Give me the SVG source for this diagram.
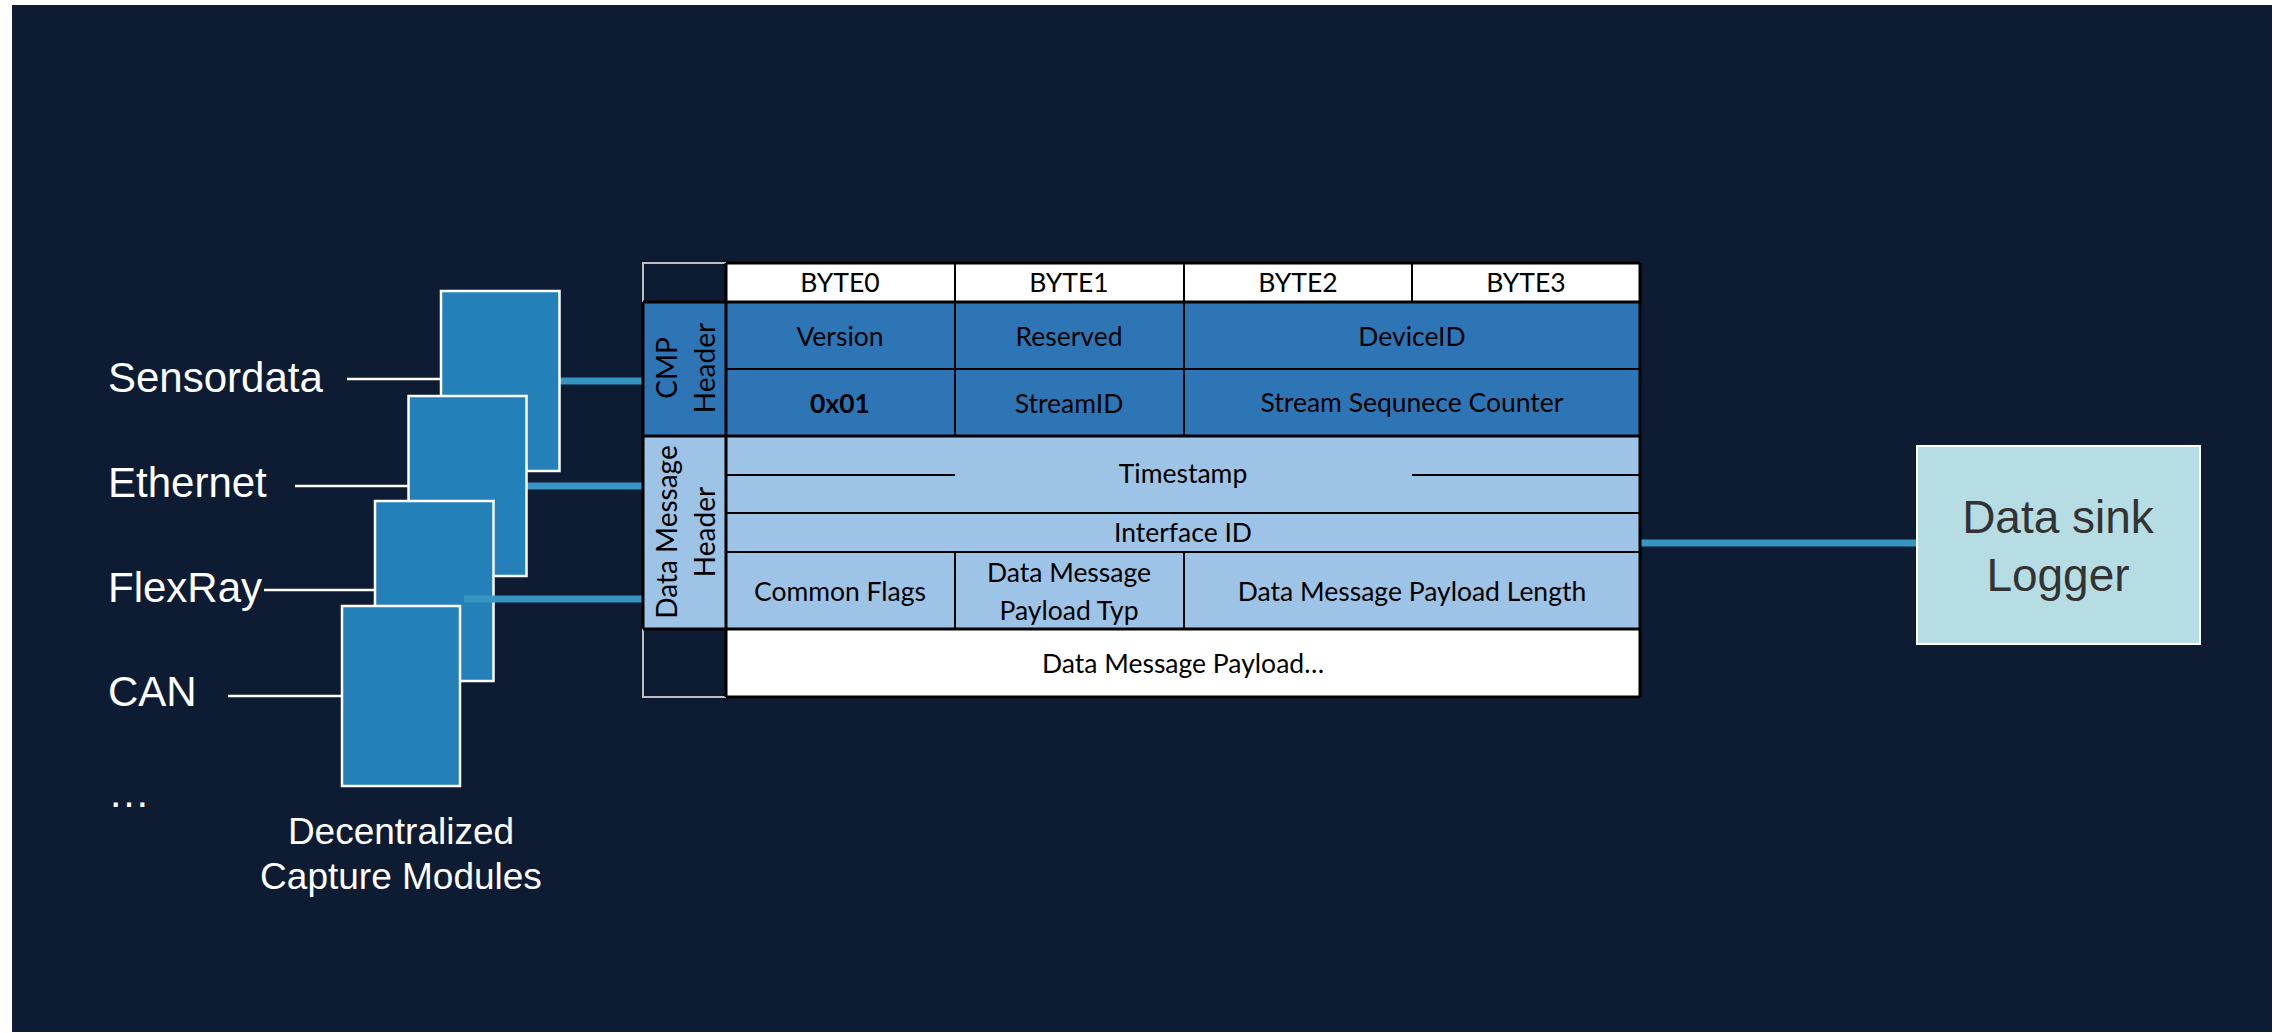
<svg xmlns="http://www.w3.org/2000/svg" width="2275" height="1033" viewBox="0 0 2275 1033">
<style>
.lbl{font-family:"Liberation Sans",Arial,sans-serif;fill:#ffffff;font-size:42px}
.cap{font-family:"Liberation Sans",Arial,sans-serif;fill:#ffffff;font-size:37px;text-anchor:middle}
.sink{font-family:"Liberation Sans",Arial,sans-serif;fill:#333333;font-size:46px;text-anchor:middle}
.t{font-family:Lato,"Open Sans",sans-serif;fill:#000000;font-size:26.5px;text-anchor:middle}
.r{font-size:28px}
.b{font-weight:bold}
.mod{fill:#2380b8;stroke:#ffffff;stroke-width:2.5}
.wire{stroke:#ffffff;stroke-width:2.5;fill:none}
.bus{stroke:#3795c1;stroke-width:7;fill:none}
.g3{stroke:#000000;stroke-width:3;fill:none}
.g2{stroke:#000000;stroke-width:2;fill:none}
.gy{stroke:#bfbfbf;stroke-width:2;fill:none}
</style>
<rect x="0" y="0" width="2275" height="1033" fill="#ffffff"/>
<rect x="12" y="5" width="2260" height="1027" fill="#0d1b33"/>

<g id="labels">
<text class="lbl" x="108" y="392">Sensordata</text>
<text class="lbl" x="108" y="497">Ethernet</text>
<text class="lbl" x="108" y="602">FlexRay</text>
<text class="lbl" x="108" y="706">CAN</text>
<text class="lbl" x="108" y="807">…</text>
</g>

<g id="connectors">
<line class="wire" x1="347" y1="379" x2="441" y2="379"/>
<line class="wire" x1="295" y1="486" x2="408" y2="486"/>
<line class="wire" x1="264" y1="590" x2="375" y2="590"/>
<line class="wire" x1="228" y1="696" x2="342" y2="696"/>
<line class="bus" x1="560" y1="381" x2="643" y2="381"/>
<line class="bus" x1="526" y1="486" x2="643" y2="486"/>
<line class="bus" x1="1641" y1="543" x2="1917" y2="543"/>
</g>

<g id="module1"><rect class="mod" x="441" y="291" width="118.5" height="180"/></g>
<g id="module2"><rect class="mod" x="408.5" y="396" width="118" height="180"/></g>
<g id="module3"><rect class="mod" x="375" y="501" width="118.5" height="180"/></g>
<g id="connector3"><line class="bus" x1="464" y1="599" x2="643" y2="599"/></g>
<g id="module4"><rect class="mod" x="342" y="606" width="118" height="180"/></g>

<g id="caption">
<text class="cap" x="401" y="844">Decentralized</text>
<text class="cap" x="401" y="889">Capture Modules</text>
</g>

<g id="cmp-table">
<rect x="726" y="263" width="914" height="39" fill="#ffffff"/>
<rect x="643" y="302" width="997" height="134" fill="#2e75b6"/>
<rect x="643" y="436" width="997" height="193" fill="#9dc3e6"/>
<rect x="726" y="629" width="914" height="68" fill="#ffffff"/>
<path class="gy" d="M726,263 H643 V302 M643,629 V697 H726"/>
<path class="g3" d="M726,263 H1640 M643,302 H1640 M643,436 H1640 M643,629 H1640 M726,697 H1640 M643,302 V629 M726,263 V697 M1640,263 V697"/>
<path class="g2" d="M726,369 H1640 M726,475 H955 M1412,475 H1640 M726,513 H1640 M726,552 H1640 M955,263 V436 M1184,263 V436 M955,552 V629 M1184,552 V629 M1412,263 V302"/>
<text class="t" x="840" y="292">BYTE0</text>
<text class="t" x="1069" y="292">BYTE1</text>
<text class="t" x="1298" y="292">BYTE2</text>
<text class="t" x="1526" y="292">BYTE3</text>
<text class="t" x="840" y="346">Version</text>
<text class="t" x="1069" y="346">Reserved</text>
<text class="t" x="1412" y="346">DeviceID</text>
<text class="t b" x="840" y="413">0x01</text>
<text class="t" x="1069" y="413">StreamID</text>
<text class="t" x="1412" y="412">Stream Sequnece Counter</text>
<text class="t" x="1183" y="483">Timestamp</text>
<text class="t" x="1183" y="542">Interface ID</text>
<text class="t" x="840" y="601">Common Flags</text>
<text class="t" x="1069" y="582">Data Message</text>
<text class="t" x="1069" y="620">Payload Typ</text>
<text class="t" x="1412" y="601">Data Message Payload Length</text>
<text class="t" x="1183" y="673">Data Message Payload…</text>
<text class="t r" transform="translate(677,368) rotate(-90)">CMP</text>
<text class="t r" transform="translate(715,368) rotate(-90)">Header</text>
<text class="t r" transform="translate(677,532) rotate(-90)">Data Message</text>
<text class="t r" transform="translate(715,532) rotate(-90)">Header</text>
</g>

<g id="data-sink">
<rect x="1917" y="446" width="283" height="198" fill="#b6dce4" stroke="#ffffff" stroke-width="2"/>
<text class="sink" x="2058" y="533">Data sink</text>
<text class="sink" x="2058" y="591">Logger</text>
</g>
</svg>
